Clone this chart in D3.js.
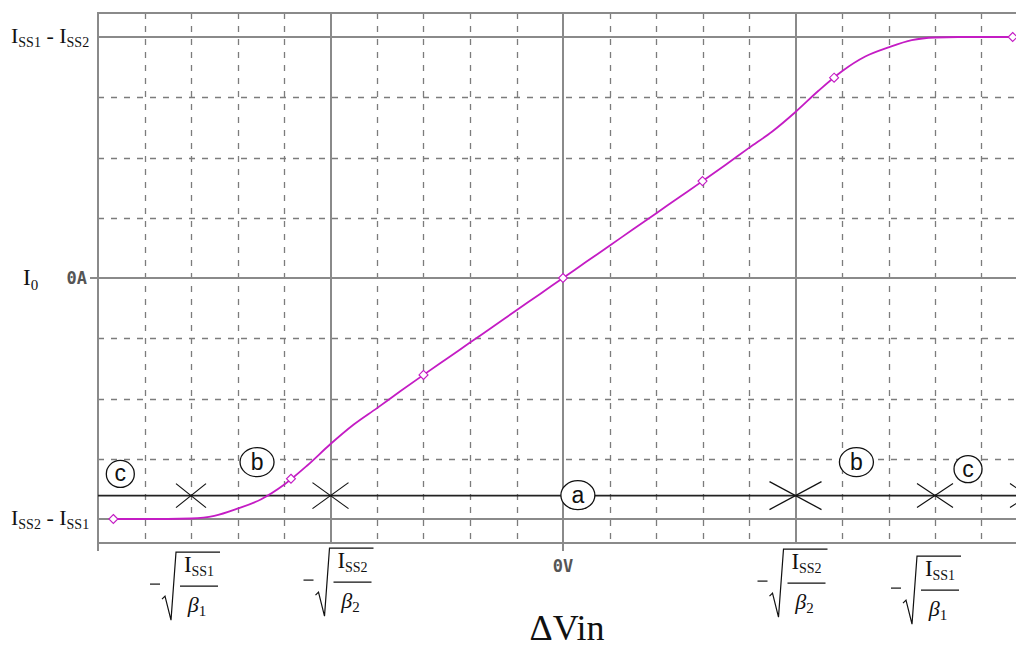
<!DOCTYPE html>
<html>
<head>
<meta charset="utf-8">
<script src="https://cdn.jsdelivr.net/npm/d3@7"></script>
<style>
  html, body { margin: 0; padding: 0; background: #fff; overflow: hidden; }
  svg { display: block; }
</style>
</head>
<body>
<svg id="chart" width="1016" height="648"></svg>
<script>
// Differential pair: output current I0 versus differential input ΔVin.
// x in grid divisions (0 = 0V), y normalised so that ±1 = ±(ISS1 - ISS2).
const curveX = [-9.67, -9, -8.5, -8, -7.5, -7, -6.5, -6, -5.5, -5, -4.5, -4, -3.5, -3, -2.5, -2, -1.5, -1, -0.5,
                0, 0.5, 1, 1.5, 2, 2.5, 3, 3.5, 4, 4.5, 5, 5.5, 6, 6.5, 7, 7.5, 8, 8.5, 9, 9.67];
const curveY = [-1, -1, -1, -0.998, -0.987, -0.957, -0.919, -0.858, -0.778, -0.689, -0.608, -0.540, -0.470, -0.402, -0.335, -0.268, -0.201, -0.134, -0.067,
                0, 0.067, 0.134, 0.201, 0.268, 0.335, 0.402, 0.470, 0.540, 0.608, 0.689, 0.778, 0.858, 0.919, 0.957, 0.987, 0.998, 1, 1, 1];

// hollow diamond symbols along the trace
const markerX = [-9.67, -5.85, -3.0, 0, 3.0, 5.83, 9.67];
const markerY = [-1, -0.833, -0.402, 0, 0.402, 0.831, 1];

// reference line (a) and the crossing marks on it
const refLineY = -0.903;
const crossX = [-8, -5, 5, 8, 10];

// x ticks labelled with the square-root expressions
const tickX = [-8, -5, 5, 8];
const tickIndex = ["1", "2", "2", "1"];

// region tags
const tagText = ["c", "b", "a", "b", "c"];
const tagX = [-9.52, -6.58, 0.32, 6.31, 8.71];
const tagY = [-0.813, -0.764, -0.901, -0.764, -0.793];

// ---- layout / style ----
const W = 1016, H = 648;
const x = d3.scaleLinear().domain([-10, 10]).range([98, 1028]);
const y = d3.scaleLinear().domain([-1.1, 1.1]).range([543.1, 12.9]);

const GRID = "#7c7c7c", FRAME = "#8a8a8a", MAG = "#c41cc4";
const SERIF = "'Liberation Serif', 'Times New Roman', serif";
const SANS = "'Liberation Sans', Arial, sans-serif";
const MONO = "'DejaVu Sans Mono', monospace";

const svg = d3.select("#chart");

// dashed grid
const gGrid = svg.append("g");
const solidX = [-5, 0, 5], solidY = [-1, 0, 1];
const gridX = d3.range(-9, 10);
const gridY = d3.range(-4, 5).map(d => d / 4);

gGrid.selectAll("line.vx").data(gridX.filter(d => !solidX.includes(d))).join("line")
  .attr("x1", d => Math.round(x(d)) + 0.5).attr("x2", d => Math.round(x(d)) + 0.5)
  .attr("y1", y(1.1)).attr("y2", y(-1.1))
  .attr("stroke", GRID).attr("stroke-width", 1.3).attr("stroke-dasharray", "6,7");
gGrid.selectAll("line.hy").data(gridY.filter(d => !solidY.includes(d))).join("line")
  .attr("y1", d => Math.round(y(d)) + 0.5).attr("y2", d => Math.round(y(d)) + 0.5)
  .attr("x1", x(-10)).attr("x2", x(10))
  .attr("stroke", GRID).attr("stroke-width", 1.3).attr("stroke-dasharray", "6,7");

// solid grid lines
gGrid.selectAll("line.sx").data(solidX).join("line")
  .attr("x1", d => Math.round(x(d))).attr("x2", d => Math.round(x(d)))
  .attr("y1", y(1.1)).attr("y2", d => d === 0 ? y(-1.1) + 8 : y(-1.1))
  .attr("stroke", FRAME).attr("stroke-width", 2);
gGrid.selectAll("line.sy").data(solidY).join("line")
  .attr("y1", d => Math.round(y(d))).attr("y2", d => Math.round(y(d)))
  .attr("x1", d => d === 0 ? x(-10) - 8 : x(-10)).attr("x2", x(10))
  .attr("stroke", FRAME).attr("stroke-width", 2);

// frame
svg.append("rect")
  .attr("x", x(-10)).attr("y", Math.round(y(1.1)))
  .attr("width", x(10) - x(-10)).attr("height", Math.round(y(-1.1)) - Math.round(y(1.1)))
  .attr("fill", "none").attr("stroke", FRAME).attr("stroke-width", 2);
svg.append("line")
  .attr("x1", x(-10)).attr("x2", x(-10))
  .attr("y1", Math.round(y(-1.1))).attr("y2", Math.round(y(-1.1)) + 8)
  .attr("stroke", FRAME).attr("stroke-width", 2);

// reference line (a)
svg.append("line")
  .attr("x1", x(-10)).attr("x2", x(10))
  .attr("y1", y(refLineY)).attr("y2", y(refLineY))
  .attr("stroke", "#222").attr("stroke-width", 1.6);

// crossing marks on the reference line
const gCross = svg.append("g").attr("stroke", "#111").attr("stroke-width", 1.2);
crossX.forEach((d, i) => {
  const cx = x(d), cy = y(refLineY);
  const hw = [15, 18, 26, 18, 18][i], hh = [12, 13, 14, 12, 12][i];
  gCross.append("line").attr("x1", cx - hw).attr("y1", cy - hh).attr("x2", cx + hw).attr("y2", cy + hh);
  gCross.append("line").attr("x1", cx - hw).attr("y1", cy + hh).attr("x2", cx + hw).attr("y2", cy - hh);
});

// circled region tags
const gTag = svg.append("g");
tagText.forEach((t, i) => {
  const cx = x(tagX[i]), cy = y(tagY[i]);
  const rx = t === "c" ? 14 : 17, ry = t === "c" ? 13.5 : 14.5;
  gTag.append("ellipse").attr("cx", cx).attr("cy", cy).attr("rx", rx).attr("ry", ry)
    .attr("fill", "#fff").attr("stroke", "#111").attr("stroke-width", 1.3);
  gTag.append("text").attr("x", cx).attr("y", cy + 7.5)
    .attr("text-anchor", "middle").attr("font-family", SANS).attr("font-size", 23)
    .attr("fill", "#111").text(t);
});

// transfer curve
const pts = curveX.map((d, i) => [d, curveY[i]]);
svg.append("path")
  .attr("d", d3.line().x(d => x(d[0])).y(d => y(d[1])).curve(d3.curveMonotoneX)(pts))
  .attr("fill", "none").attr("stroke", MAG).attr("stroke-width", 1.8);

svg.append("g").selectAll("path").data(markerX.map((d, i) => [d, markerY[i]])).join("path")
  .attr("transform", d => `translate(${x(d[0])},${y(d[1])})`)
  .attr("d", "M0,-4.5L4.5,0L0,4.5L-4.5,0Z")
  .attr("fill", "#fff").attr("stroke", MAG).attr("stroke-width", 1.1);

// text with subscripts
function subText(parent, px, py, parts, big, small, shift, anchor) {
  const t = parent.append("text").attr("x", px).attr("y", py)
    .attr("font-family", SERIF).attr("font-size", big).attr("fill", "#111")
    .attr("text-anchor", anchor || "start");
  let down = false;
  parts.forEach(p => {
    const s = t.append("tspan").text(p.t);
    if (p.sub) { s.attr("font-size", small); if (!down) { s.attr("dy", shift); down = true; } }
    else if (down) { s.attr("dy", -shift); down = false; }
    if (p.italic) s.attr("font-style", "italic");
  });
  return t;
}

// y-axis labels
subText(svg, 11, y(1) + 6, [{t: "I"}, {t: "SS1", sub: true}, {t: " - I"}, {t: "SS2", sub: true}], 22, 14, 4);
subText(svg, 11, y(-1) + 6, [{t: "I"}, {t: "SS2", sub: true}, {t: " - I"}, {t: "SS1", sub: true}], 22, 14, 4);
subText(svg, 23, y(0) + 7, [{t: "I"}, {t: "0", sub: true}], 23, 15, 5);

svg.append("text").attr("x", x(-10) - 11).attr("y", y(0) + 6)
  .attr("text-anchor", "end").attr("font-family", MONO)
  .attr("font-weight", "bold").attr("font-size", 17).attr("fill", "#555").text("0A");
svg.append("text").attr("x", x(0)).attr("y", y(-1.1) + 29)
  .attr("text-anchor", "middle").attr("font-family", MONO)
  .attr("font-weight", "bold").attr("font-size", 17).attr("fill", "#555").text("0V");

// x-axis square-root labels: -sqrt(ISSn / βn)
const tickNudge = [[8, 9], [22, 5], [11, 6], [5, 13]];
tickX.forEach((d, i) => {
  const fx = x(d) + tickNudge[i][0];
  const ty = y(-1.1) + tickNudge[i][1];
  const n = tickIndex[i];
  const g = svg.append("g");
  g.append("line").attr("x1", fx - 49).attr("x2", fx - 39).attr("y1", ty + 32).attr("y2", ty + 32)
    .attr("stroke", "#111").attr("stroke-width", 1.2);
  g.append("path")
    .attr("d", `M${fx - 37},${ty + 47}L${fx - 34},${ty + 44}L${fx - 28},${ty + 68}L${fx - 23},${ty}L${fx + 21},${ty}`)
    .attr("fill", "none").attr("stroke", "#111").attr("stroke-width", 1.2);
  g.append("line").attr("x1", fx - 19).attr("x2", fx + 19).attr("y1", ty + 34).attr("y2", ty + 34)
    .attr("stroke", "#111").attr("stroke-width", 1.2);
  subText(g, fx, ty + 20, [{t: "I"}, {t: "SS" + n, sub: true}], 23, 14, 4, "middle");
  subText(g, fx - 2, ty + 60, [{t: "β", italic: true}, {t: n, sub: true}], 22, 15, 4, "middle");
});

// x-axis title
svg.append("text").attr("x", 567).attr("y", 640)
  .attr("text-anchor", "middle").attr("font-family", SERIF).attr("font-size", 36)
  .attr("fill", "#111").text("ΔVin");
</script>
</body>
</html>
